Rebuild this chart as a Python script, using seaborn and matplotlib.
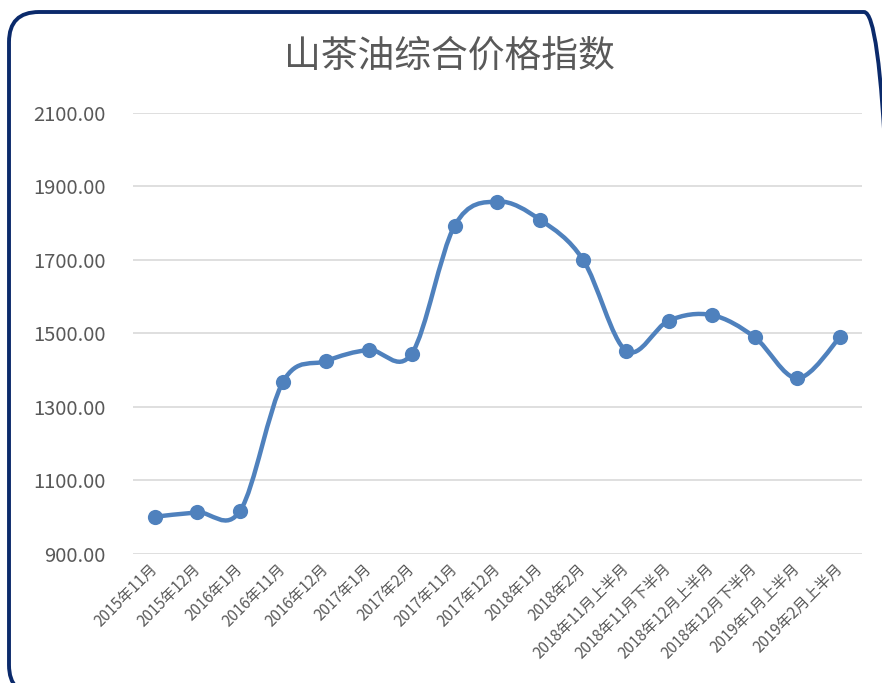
import numpy as np
import pandas as pd
import matplotlib
matplotlib.use('Agg')
import matplotlib.pyplot as plt
from matplotlib.path import Path
from matplotlib.patches import PathPatch, FancyBboxPatch
from matplotlib.transforms import IdentityTransform
import seaborn as sns

# data
periods = ['2015年11月', '2015年12月', '2016年1月', '2016年11月', '2016年12月',
           '2017年1月', '2017年2月', '2017年11月', '2017年12月', '2018年1月',
           '2018年2月', '2018年11月上半月', '2018年11月下半月', '2018年12月上半月',
           '2018年12月下半月', '2019年1月上半月', '2019年2月上半月']
index_values = [1001, 1013, 1018, 1369, 1425, 1455, 1445, 1793, 1859, 1809,
                1700, 1453, 1535, 1550, 1490, 1378, 1491]
y_ticks = [900, 1100, 1300, 1500, 1700, 1900, 2100]

df = pd.DataFrame({'期间': periods, '指数': index_values})
df['pos'] = range(len(df))

sns.set_theme(style='white')
plt.rcParams['font.family'] = ['Noto Sans CJK SC', 'DejaVu Sans']

fig = plt.figure(figsize=(8.82, 6.83), dpi=100)
ax = fig.add_axes([0.151, 0.189, 0.826, 0.6456])

# smooth line like Excel: cubic bezier through the points
xs = df['pos'].to_numpy(dtype=float)
ys = df['指数'].to_numpy(dtype=float)
verts = [(xs[0], ys[0])]
codes = [Path.MOVETO]
n = len(xs)
for i in range(n - 1):
    p0 = np.array([xs[max(i - 1, 0)], ys[max(i - 1, 0)]])
    p1 = np.array([xs[i], ys[i]])
    p2 = np.array([xs[i + 1], ys[i + 1]])
    p3 = np.array([xs[min(i + 2, n - 1)], ys[min(i + 2, n - 1)]])
    c1 = p1 + (p2 - p0) / 6
    c2 = p2 - (p3 - p1) / 6
    verts += [tuple(c1), tuple(c2), tuple(p2)]
    codes += [Path.CURVE4] * 3
ax.add_patch(PathPatch(Path(verts, codes), facecolor='none',
                       edgecolor='#4F81BD', lw=3.2, capstyle='round', zorder=3))

sns.scatterplot(data=df, x='pos', y='指数', ax=ax, s=120, color='#4F81BD',
                edgecolor='#4F81BD', linewidth=0, zorder=4, legend=False)

ax.set_xlim(-0.5, n - 0.5)
ax.set_ylim(900, 2100)
ax.set_yticks(y_ticks)
ax.set_yticklabels([f'{v:.2f}' for v in y_ticks], fontsize=14.5, color='#595959')
ax.set_xticks(df['pos'])
ax.set_xticklabels(df['期间'], rotation=45, ha='right', va='center',
                   rotation_mode='anchor', fontsize=11, color='#595959')
ax.tick_params(axis='x', pad=9, length=0)
ax.tick_params(axis='y', pad=20, length=0)
ax.set_xlabel('')
ax.set_ylabel('')
ax.grid(axis='y', color='#D9D9D9', lw=1.2)
ax.set_axisbelow(True)
for sp in ax.spines.values():
    sp.set_visible(False)

fig.text(0.51, 0.918, '山茶油综合价格指数', ha='center', va='center',
         fontsize=26.5, fontweight='light', color='#595959')

# rounded frame, running off the bottom and right edges
frame = FancyBboxPatch((9, -12), 885, 683, boxstyle='round,pad=0,rounding_size=30',
                       transform=IdentityTransform(), facecolor='none',
                       edgecolor='#0B2A6B', lw=2.8, zorder=10)
fig.patches.append(frame)

fig.savefig('out.png', dpi=100)
